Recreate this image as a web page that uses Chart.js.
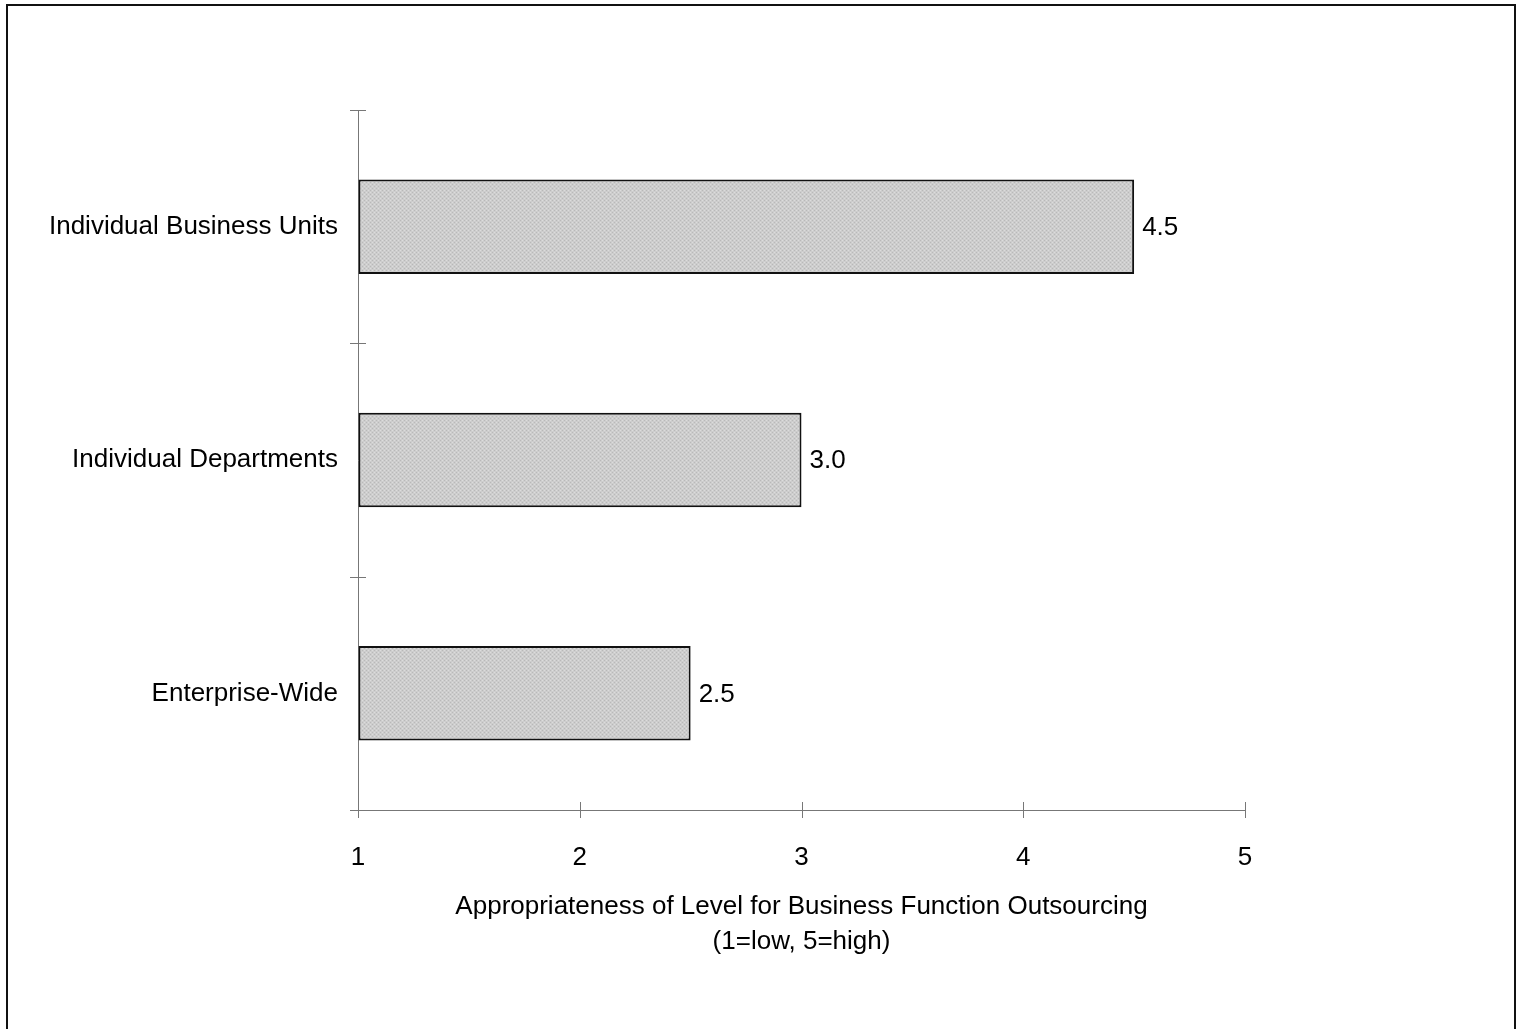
<!DOCTYPE html>
<html>
<head>
<meta charset="utf-8">
<script src="https://cdn.jsdelivr.net/npm/chart.js@4/dist/chart.umd.min.js"></script>
<style>
  html, body { margin: 0; padding: 0; background: #fff; }
  canvas { display: block; }
</style>
</head>
<body>
<canvas id="levelChart" width="1519" height="1029"></canvas>
<script>
// data
const levels = ["Individual Business Units", "Individual Departments", "Enterprise-Wide"];
const ratings = [4.5, 3.0, 2.5];
const xTicks = [1, 2, 3, 4, 5];
const axisTitle = ["Appropriateness of Level for Business Function Outsourcing", "(1=low, 5=high)"];

const FONT = "'Liberation Sans', Arial, sans-serif";

// grey halftone fill like the scanned bars
function makePattern() {
  const c = document.createElement("canvas");
  c.width = 4;
  c.height = 4;
  const g = c.getContext("2d");
  g.fillStyle = "#cdcdcd";
  g.fillRect(0, 0, 4, 4);
  g.fillStyle = "#b9b9b9";
  g.fillRect(0, 0, 1, 1);
  g.fillRect(2, 2, 1, 1);
  g.fillStyle = "#dcdcdc";
  g.fillRect(2, 0, 1, 1);
  g.fillRect(0, 2, 1, 1);
  return g.createPattern(c, "repeat");
}

// outer frame
const framePlugin = {
  id: "frame",
  beforeDraw(chart) {
    const ctx = chart.ctx;
    ctx.save();
    ctx.fillStyle = "#fff";
    ctx.fillRect(0, 0, chart.width, chart.height);
    ctx.strokeStyle = "#111";
    ctx.lineWidth = 2;
    ctx.beginPath();
    ctx.moveTo(7, chart.height);
    ctx.lineTo(7, 5);
    ctx.lineTo(1515, 5);
    ctx.lineTo(1515, chart.height);
    ctx.stroke();
    ctx.restore();
  },
};

// tick marks that cross the axis lines
const crossTicks = {
  id: "crossTicks",
  afterDraw(chart) {
    const ctx = chart.ctx;
    const xs = chart.scales.x;
    const ys = chart.scales.y;
    ctx.save();
    ctx.strokeStyle = "#777";
    ctx.lineWidth = 1;
    ctx.beginPath();
    xTicks.forEach((v) => {
      const px = Math.round(xs.getPixelForValue(v)) + 0.5;
      ctx.moveTo(px, ys.bottom - 8);
      ctx.lineTo(px, ys.bottom + 8);
    });
    const n = levels.length;
    for (let i = 0; i <= n; i++) {
      const py = Math.round(ys.top + (i * (ys.bottom - ys.top)) / n) + 0.5;
      ctx.moveTo(xs.left - 8, py);
      ctx.lineTo(xs.left + 8, py);
    }
    ctx.stroke();
    ctx.restore();
  },
};

// value next to each bar
const valueLabels = {
  id: "valueLabels",
  afterDatasetsDraw(chart) {
    const ctx = chart.ctx;
    const meta = chart.getDatasetMeta(0);
    ctx.save();
    ctx.font = "26px " + FONT;
    ctx.fillStyle = "#000";
    ctx.textAlign = "left";
    ctx.textBaseline = "middle";
    meta.data.forEach((bar, i) => {
      ctx.fillText(ratings[i].toFixed(1), bar.x + 8, bar.y + 1);
    });
    ctx.restore();
  },
};

const ctx = document.getElementById("levelChart").getContext("2d");

new Chart(ctx, {
  type: "bar",
  data: {
    labels: levels,
    datasets: [
      {
        data: ratings,
        base: 1,
        backgroundColor: makePattern(),
        borderColor: "#111",
        borderWidth: 2,
        borderSkipped: false,
        categoryPercentage: 1,
        barPercentage: 0.405,
      },
    ],
  },
  options: {
    indexAxis: "y",
    responsive: false,
    animation: false,
    layout: { padding: { left: 0, top: 110, right: 274, bottom: 0 } },
    plugins: {
      legend: { display: false },
      tooltip: { enabled: false },
    },
    scales: {
      x: {
        min: 1,
        max: 5,
        afterBuildTicks(scale) {
          scale.ticks = xTicks.map((v) => ({ value: v }));
        },
        afterFit(scale) {
          scale.height = 219;
        },
        grid: { drawOnChartArea: false, drawTicks: false },
        border: { color: "#777", width: 1 },
        ticks: {
          color: "#000",
          padding: 32,
          font: { family: FONT, size: 26 },
        },
        title: {
          display: true,
          text: axisTitle,
          color: "#000",
          font: { family: FONT, size: 26, lineHeight: 1.35 },
          padding: { top: 0, bottom: 70 },
        },
      },
      y: {
        afterFit(scale) {
          scale.width = 358;
        },
        grid: { drawOnChartArea: false, drawTicks: false, offset: true },
        border: { color: "#777", width: 1 },
        ticks: {
          color: "#000",
          padding: 20,
          font: { family: FONT, size: 26 },
        },
      },
    },
  },
  plugins: [framePlugin, crossTicks, valueLabels],
});
</script>
</body>
</html>
